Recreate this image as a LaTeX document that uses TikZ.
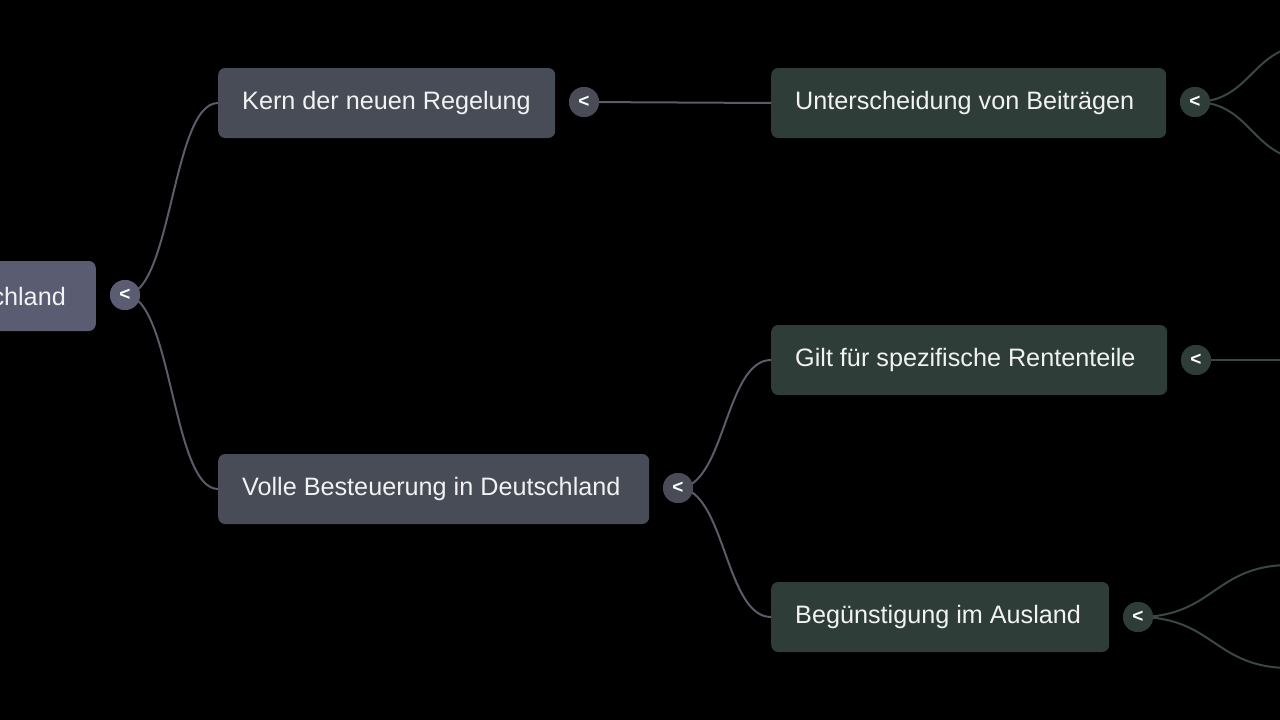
\documentclass[tikz,border=0pt]{standalone}
\usepackage{fontspec}
\setmainfont{Liberation Sans}
\definecolor{rootc}{HTML}{5A5C72}
\definecolor{grayc}{HTML}{474C57}
\definecolor{greenc}{HTML}{2F3D39}
\definecolor{grayedge}{HTML}{5A5D69}
\definecolor{greenedge}{HTML}{394842}
\definecolor{txt}{HTML}{F2F2F2}
\newcommand{\lbx}[2]{\makebox[#1][l]{#2}}
\newcommand{\rbx}[2]{\makebox[#1][r]{#2}}
\begin{document}
\begin{tikzpicture}[x=1pt,y=-1pt,
  box/.style={rounded corners=7pt, minimum height=70pt, inner xsep=24pt, inner ysep=0pt,
    text=txt, font=\fontsize{25.2}{29}\selectfont},
  tog/.style={circle, minimum size=30pt, inner sep=0pt, text=white,
    font=\fontsize{19}{19}\selectfont\bfseries},
  gedge/.style={draw=grayedge, line width=2pt},
  nedge/.style={draw=greenedge, line width=2pt}]
\fill[black] (0,0) rectangle (1280,720);
\useasboundingbox (0,0) rectangle (1280,720);
\clip (0,0) rectangle (1280,720);
% nodes
\node[box, fill=rootc, anchor=east, inner xsep=30pt] (root) at (96,296) {\rbx{200pt}{chland}};
\node[tog, fill=rootc] (troot) at (125,295) {<};
\node[box, fill=grayc, anchor=west] (kern) at (218,103) {\lbx{289pt}{Kern der neuen Regelung}};
\node[tog, fill=grayc] (tkern) at (584,102) {<};
\node[box, fill=grayc, anchor=west] (volle) at (218,489) {\lbx{383pt}{Volle Besteuerung in Deutschland}};
\node[tog, fill=grayc] (tvolle) at (678,488) {<};
\node[box, fill=greenc, anchor=west] (unter) at (771,103) {\lbx{347pt}{Unterscheidung von Beiträgen}};
\node[tog, fill=greenc] (tunter) at (1195,102) {<};
\node[box, fill=greenc, anchor=west] (gilt) at (771,360) {\lbx{348pt}{Gilt für spezifische Rententeile}};
\node[tog, fill=greenc] (tgilt) at (1196,360) {<};
\node[box, fill=greenc, anchor=west] (beg) at (771,617) {\lbx{290pt}{Begünstigung im Ausland}};
\node[tog, fill=greenc] (tbeg) at (1138,617) {<};
\coordinate (u1) at (1310,45);
\coordinate (u2) at (1310,160);
\coordinate (g1) at (1300,360);
\coordinate (b1) at (1290,565);
\coordinate (b2) at (1290,668);
% edges
\path[gedge] (troot.center) .. controls (172,295) and (172,103) .. (kern.west);
\path[gedge] (troot.center) .. controls (172,295) and (172,489) .. (volle.west);
\path[gedge] (tkern.center) -- (unter.west);
\path[gedge] (tvolle.center) .. controls (725,488) and (725,360) .. (gilt.west);
\path[gedge] (tvolle.center) .. controls (725,488) and (725,617) .. (beg.west);
\path[nedge] (tunter.center) .. controls (1252,102) and (1252,45) .. (u1);
\path[nedge] (tunter.center) .. controls (1252,102) and (1252,160) .. (u2);
\path[nedge] (tgilt.center) -- (g1);
\path[nedge] (tbeg.center) .. controls (1214,617) and (1214,565) .. (b1);
\path[nedge] (tbeg.center) .. controls (1214,617) and (1214,668) .. (b2);
% redraw toggles on top
\node[tog, fill=rootc] at (troot) {<};
\node[tog, fill=grayc] at (tkern) {<};
\node[tog, fill=grayc] at (tvolle) {<};
\node[tog, fill=greenc] at (tunter) {<};
\node[tog, fill=greenc] at (tgilt) {<};
\node[tog, fill=greenc] at (tbeg) {<};
\end{tikzpicture}
\end{document}
